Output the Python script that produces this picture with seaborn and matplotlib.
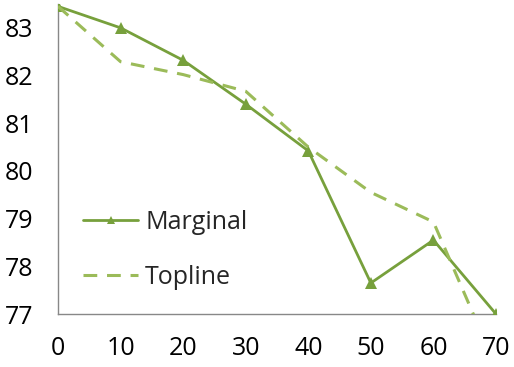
import matplotlib
matplotlib.use("Agg")
import matplotlib.pyplot as plt
import seaborn as sns
import pandas as pd

x_values = [0, 10, 20, 30, 40, 50, 60, 70]
marginal = [83.45, 83.0, 82.32, 81.4, 80.42, 77.65, 78.55, 77.0]
topline = [83.45, 82.29, 82.02, 81.67, 80.5, 79.55, 78.93, 75.9]
series_names = ["Marginal", "Topline"]
y_ticks = [77, 78, 79, 80, 81, 82, 83]
x_ticks = [0, 10, 20, 30, 40, 50, 60, 70]

df = pd.DataFrame({"x": x_values * 2,
                   "y": marginal + topline,
                   "series": [series_names[0]] * len(x_values) + [series_names[1]] * len(x_values)})

sns.set_style("white")
plt.rcParams['font.family'] = ['Open Sans', 'DejaVu Sans']

fig = plt.figure(figsize=(5.14, 3.67), dpi=100)
ax = fig.add_axes([58/514, 1 - 314/367, (496-58)/514, (314-4)/367])

sns.lineplot(data=df[df.series == "Marginal"], x="x", y="y", ax=ax, color="#77A03C",
             lw=2.0, marker="^", markersize=8, markeredgewidth=0, label="Marginal")
sns.lineplot(data=df[df.series == "Topline"], x="x", y="y", ax=ax, color="#9BBB59",
             lw=2.2, dashes=False, label="Topline")
ax.lines[-1].set_dashes([4.5, 3.2])

ax.set_xlim(0, 70)
ax.set_ylim(77, 83.5)
ax.set_xticks(x_ticks)
ax.set_yticks(y_ticks)
ax.set_xlabel("")
ax.set_ylabel("")
for s in ["top", "right"]:
    ax.spines[s].set_visible(False)
for s in ["left", "bottom"]:
    ax.spines[s].set_color("#888888")
    ax.spines[s].set_linewidth(1.0)
    ax.spines[s].set_zorder(0)
ax.tick_params(axis="both", which="both", direction="out", length=6.5, width=1,
               color="#888888", labelsize=18, labelcolor="black")
ax.tick_params(axis="x", pad=9)
ax.tick_params(axis="y", pad=11)

leg = ax.legend(loc="center left", bbox_to_anchor=((83-58)/438, (314-250)/310),
                frameon=False, borderaxespad=0, borderpad=0,
                fontsize=18, handlelength=2.2, handletextpad=0.28, labelspacing=1.2,
                markerscale=0.7)

fig.savefig("out.png", dpi=100)
